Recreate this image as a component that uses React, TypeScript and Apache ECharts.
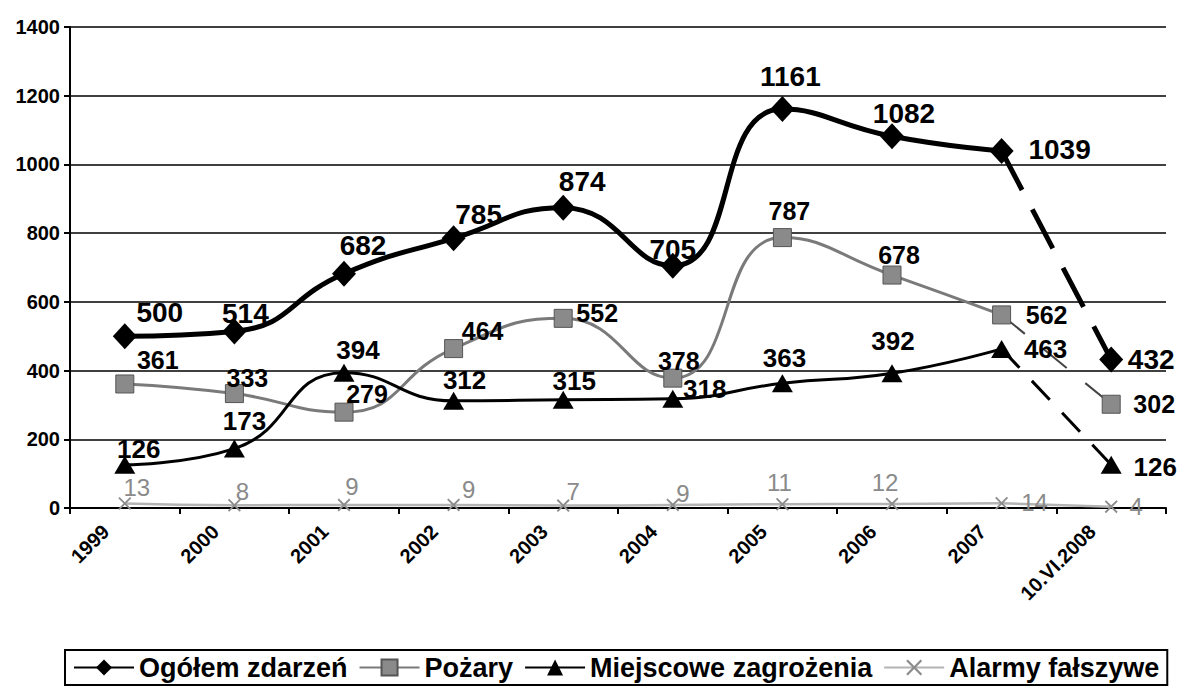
import React, { useEffect, useRef } from "react";
import * as echarts from "echarts";

const categories = ["1999", "2000", "2001", "2002", "2003", "2004", "2005", "2006", "2007", "10.VI.2008"];
const ogolem = [500, 514, 682, 785, 874, 705, 1161, 1082, 1039, 432];
const pozary = [361, 333, 279, 464, 552, 378, 787, 678, 562, 302];
const miejscowe = [126, 173, 394, 312, 315, 318, 363, 392, 463, 126];
const alarmy = [13, 8, 9, 9, 7, 9, 11, 12, 14, 4];

const yTicks = { min: 0, max: 1400, interval: 200 };

// label offsets relative to the marker centre (layout only)
const ogolemOffsets = [[35, -24], [11, -18], [19, -28], [25, -24], [19, -26], [0, -16], [8, -33], [12, -23], [58, -2], [40, 0]];
const pozaryOffsets = [[33, -24], [13, -16], [23, -18], [29, -18], [34, -5], [6, -17], [7, -27], [7, -20], [45, 0], [43, 0]];
const miejscoweOffsets = [[14, -16], [10, -28], [14, -23], [11, -21], [11, -19], [32, -10], [2, -25], [1, -32], [44, 0], [44, 2]];
const alarmyOffsets = [[12, -16], [8, -14], [8, -18], [15, -15], [10, -14], [10, -11], [-3, -22], [-7, -21], [33, -1], [25, 0]];

const FONT = "'Liberation Sans', Arial, Helvetica, sans-serif";
const XSYM = "path://M0,1 L1,0 L5,4 L9,0 L10,1 L6,5 L10,9 L9,10 L5,6 L1,10 L0,9 L4,5 Z";

function makeSeries(name: string, values: number[], offsets: number[][], st: any) {
  const n = values.length;
  const label = {
    show: true,
    position: "inside",
    fontFamily: FONT,
    fontSize: st.labelSize,
    fontWeight: st.labelWeight,
    color: st.labelColor,
  };
  const main = {
    name,
    type: "line",
    smooth: 0.5,
    symbol: st.symbol,
    symbolSize: st.symbolSize,
    z: st.z,
    itemStyle: st.itemStyle,
    lineStyle: { color: st.lineColor, width: st.lineWidth },
    label,
    emphasis: { disabled: true },
    data: values.slice(0, n - 1).map((v, i) => ({ value: v, label: { offset: offsets[i] } })),
  };
  const tail = {
    name,
    type: "line",
    smooth: false,
    symbol: st.symbol,
    symbolSize: st.symbolSize,
    z: st.z,
    itemStyle: st.itemStyle,
    lineStyle: { color: st.tailColor || st.lineColor, width: st.tailWidth || st.lineWidth, type: st.tailDash || "solid" },
    label,
    emphasis: { disabled: true },
    data: values.map((v, i) =>
      i < n - 2
        ? null
        : i === n - 2
        ? { value: v, symbol: "none", label: { show: false } }
        : { value: v, label: { offset: offsets[i] } }
    ),
  };
  return [main, tail];
}

export default function App() {
  const ref = useRef<HTMLDivElement>(null);
  useEffect(() => {
    if (!ref.current) return;
    const chart = echarts.init(ref.current, null, { renderer: "svg" });
    const series = [
      ...makeSeries("Ogółem zdarzeń", ogolem, ogolemOffsets, {
        symbol: "diamond",
        symbolSize: [24, 26],
        z: 5,
        itemStyle: { color: "#000" },
        lineColor: "#000",
        lineWidth: 5,
        tailDash: [44, 22],
        labelSize: 28,
        labelWeight: "bold",
        labelColor: "#000",
      }),
      ...makeSeries("Pożary", pozary, pozaryOffsets, {
        symbol: "rect",
        symbolSize: 18,
        z: 3,
        itemStyle: { color: "#8a8a8a", borderColor: "#555", borderWidth: 1 },
        lineColor: "#7a7a7a",
        lineWidth: 3,
        tailColor: "#444",
        tailWidth: 2,
        tailDash: [30, 24],
        labelSize: 25,
        labelWeight: "bold",
        labelColor: "#000",
      }),
      ...makeSeries("Miejscowe zagrożenia", miejscowe, miejscoweOffsets, {
        symbol: "triangle",
        symbolSize: [21, 18],
        z: 4,
        itemStyle: { color: "#000" },
        lineColor: "#000",
        lineWidth: 3,
        tailDash: [26, 18],
        labelSize: 26,
        labelWeight: "bold",
        labelColor: "#000",
      }),
      ...makeSeries("Alarmy fałszywe", alarmy, alarmyOffsets, {
        symbol: XSYM,
        symbolSize: 13,
        z: 2,
        itemStyle: { color: "#8c8c8c" },
        lineColor: "#b4b4b4",
        lineWidth: 2.5,
        labelSize: 24,
        labelWeight: "normal",
        labelColor: "#8a8a8a",
      }),
    ];
    chart.setOption({
      animation: false,
      backgroundColor: "#fff",
      textStyle: { fontFamily: FONT },
      grid: { left: 70, right: 15, top: 27, bottom: 182, containLabel: false },
      legend: {
        data: ["Ogółem zdarzeń", "Pożary", "Miejscowe zagrożenia", "Alarmy fałszywe"],
        left: 65,
        top: 650,
        orient: "horizontal",
        itemWidth: 60,
        itemHeight: 20,
        itemGap: 11,
        padding: [4, 8, 4, 8],
        borderColor: "#000",
        borderWidth: 2,
        selectedMode: false,
        textStyle: { fontFamily: FONT, fontSize: 27, fontWeight: "bold", color: "#000" },
      },
      xAxis: {
        type: "category",
        data: categories,
        boundaryGap: true,
        axisLine: { lineStyle: { color: "#000", width: 2 } },
        axisTick: { show: true, length: 6, lineStyle: { color: "#000", width: 2 } },
        axisLabel: {
          rotate: 45,
          interval: 0,
          margin: 1,
          padding: [0, 27, 0, 0],
          fontFamily: FONT,
          fontSize: 20,
          fontWeight: "bold",
          color: "#000",
        },
        splitLine: { show: false },
      },
      yAxis: {
        type: "value",
        min: yTicks.min,
        max: yTicks.max,
        interval: yTicks.interval,
        axisLine: { show: true, lineStyle: { color: "#000", width: 2 } },
        axisTick: { show: true, length: 6, lineStyle: { color: "#000", width: 2 } },
        axisLabel: {
          margin: 10,
          fontFamily: FONT,
          fontSize: 20,
          fontWeight: "bold",
          color: "#000",
          formatter: (v: number) => String(v),
        },
        splitLine: { show: true, lineStyle: { color: "#000", width: 1.5 } },
      },
      series,
    });
    return () => chart.dispose();
  }, []);
  return (
    <div
      ref={ref}
      style={{ position: "fixed", left: 0, top: 0, width: 1181, height: 690, background: "#fff" }}
    />
  );
}
